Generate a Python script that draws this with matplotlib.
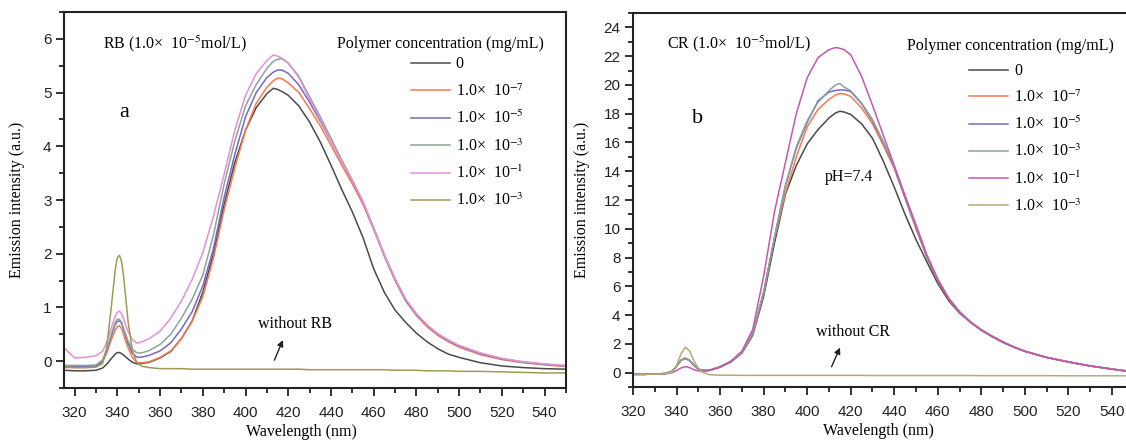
"""Emission spectra of RB and CR with polymer added (two panels, a and b)."""
import matplotlib
matplotlib.use("Agg")
import matplotlib.pyplot as plt
from matplotlib.ticker import MultipleLocator

plt.rcParams["font.family"] = ["Liberation Serif", "DejaVu Serif"]
plt.rcParams["mathtext.fontset"] = "stix"

# ---------------------------------------------------------------------------
# Data (wavelength in nm, intensity in a.u.)
# ---------------------------------------------------------------------------
LABELS = ["0", "1.0×  10$^{-7}$", "1.0×  10$^{-5}$", "1.0×  10$^{-3}$",
          "1.0×  10$^{-1}$", "1.0×  10$^{-3}$"]

# panel a: RB
wl_a = [315, 320, 325, 330, 333, 335, 337, 339, 340, 341, 342, 343, 345, 347,
        349, 350, 352, 355, 360, 365, 370, 375, 380, 385, 390, 395, 400, 405,
        410, 413, 415, 417, 420, 425, 430, 435, 440, 445, 450, 455, 460, 465,
        470, 475, 480, 485, 490, 495, 500, 510, 520, 530, 540, 550]
rb_0 = [-0.17, -0.18, -0.18, -0.17, -0.13, -0.06, 0.04, 0.13, 0.16, 0.16, 0.14,
        0.11, 0.04, -0.02, -0.05, -0.05, -0.04, -0.02, 0.06, 0.18, 0.42, 0.75,
        1.28, 2.0, 2.92, 3.7, 4.3, 4.72, 4.98, 5.08, 5.06, 5.02, 4.95, 4.75,
        4.45, 4.08, 3.65, 3.2, 2.78, 2.3, 1.72, 1.28, 0.95, 0.72, 0.52, 0.36,
        0.23, 0.13, 0.07, -0.03, -0.09, -0.12, -0.14, -0.15]
rb_e7 = [-0.12, -0.12, -0.12, -0.11, -0.02, 0.15, 0.38, 0.58, 0.64, 0.66, 0.6,
         0.48, 0.25, 0.07, -0.02, -0.03, -0.03, -0.01, 0.07, 0.19, 0.42, 0.74,
         1.2, 1.92, 2.82, 3.6, 4.3, 4.8, 5.1, 5.22, 5.27, 5.26, 5.18, 5.0, 4.7,
         4.38, 4.02, 3.65, 3.3, 2.92, 2.45, 1.95, 1.5, 1.12, 0.85, 0.64, 0.48,
         0.36, 0.26, 0.12, 0.03, -0.03, -0.07, -0.1]
rb_e5 = [-0.1, -0.1, -0.1, -0.09, 0.0, 0.18, 0.45, 0.68, 0.74, 0.75, 0.7, 0.58,
         0.33, 0.15, 0.08, 0.07, 0.08, 0.11, 0.19, 0.34, 0.6, 0.92, 1.4, 2.1,
         3.05, 3.85, 4.55, 5.0, 5.28, 5.38, 5.42, 5.42, 5.36, 5.14, 4.82, 4.47,
         4.1, 3.72, 3.35, 2.95, 2.47, 1.97, 1.52, 1.13, 0.87, 0.66, 0.5, 0.38,
         0.28, 0.14, 0.04, -0.02, -0.06, -0.09]
rb_e3 = [-0.08, -0.08, -0.08, -0.07, 0.02, 0.2, 0.48, 0.72, 0.78, 0.78, 0.72,
         0.6, 0.38, 0.22, 0.16, 0.15, 0.16, 0.2, 0.31, 0.5, 0.8, 1.15, 1.6, 2.35,
         3.3, 4.1, 4.75, 5.15, 5.45, 5.58, 5.62, 5.63, 5.55, 5.3, 4.92, 4.55,
         4.15, 3.75, 3.37, 2.97, 2.48, 1.98, 1.53, 1.15, 0.88, 0.67, 0.51, 0.39,
         0.29, 0.15, 0.05, -0.02, -0.06, -0.09]
rb_e1 = [0.25, 0.06, 0.07, 0.1, 0.18, 0.35, 0.6, 0.84, 0.91, 0.93, 0.88, 0.77,
         0.55, 0.4, 0.34, 0.34, 0.37, 0.42, 0.56, 0.8, 1.12, 1.52, 2.02, 2.7,
         3.48, 4.3, 4.95, 5.35, 5.6, 5.7, 5.68, 5.64, 5.55, 5.28, 4.88, 4.5, 4.1,
         3.72, 3.35, 2.96, 2.47, 1.97, 1.53, 1.15, 0.88, 0.67, 0.51, 0.39, 0.29,
         0.15, 0.05, -0.01, -0.05, -0.08]
rb_none = [-0.1, -0.12, -0.12, -0.11, -0.05, 0.25, 0.95, 1.7, 1.93, 1.97, 1.85,
           1.55, 0.75, 0.2, -0.02, -0.06, -0.1, -0.12, -0.14, -0.14, -0.14,
           -0.15, -0.15, -0.15, -0.15, -0.15, -0.15, -0.15, -0.15, -0.15, -0.15,
           -0.15, -0.15, -0.15, -0.16, -0.16, -0.16, -0.16, -0.16, -0.16, -0.16,
           -0.16, -0.17, -0.17, -0.17, -0.18, -0.18, -0.18, -0.19, -0.19, -0.2,
           -0.21, -0.22, -0.22]

# panel b: CR
wl_b = [320, 325, 330, 335, 338, 340, 342, 344, 346, 348, 350, 352, 355, 360,
        365, 370, 375, 380, 385, 390, 395, 400, 405, 410, 413, 415, 417, 420,
        425, 430, 435, 440, 445, 450, 455, 460, 465, 470, 475, 480, 485, 490,
        495, 500, 510, 520, 530, 540, 547]
cr_0 = [-0.12, -0.12, -0.1, -0.06, 0.1, 0.45, 0.85, 1.0, 0.85, 0.5, 0.25, 0.15,
        0.15, 0.38, 0.75, 1.35, 2.6, 5.3, 9.0, 12.4, 14.4, 15.9, 16.9, 17.7,
        18.05, 18.17, 18.12, 17.95, 17.3, 16.3, 14.7, 12.9, 11.0, 9.25, 7.7,
        6.2, 5.0, 4.15, 3.5, 2.95, 2.5, 2.1, 1.77, 1.48, 1.05, 0.74, 0.46, 0.24,
        0.1]
cr_e7 = [-0.12, -0.12, -0.1, -0.06, 0.1, 0.45, 0.85, 0.98, 0.83, 0.5, 0.25,
         0.15, 0.16, 0.4, 0.78, 1.4, 2.7, 5.5, 9.3, 12.5, 15.0, 17.1, 18.3, 19.0,
         19.3, 19.4, 19.38, 19.2, 18.4, 17.3, 15.8, 14.2, 12.1, 10.0, 8.0, 6.4,
         5.1, 4.2, 3.5, 2.95, 2.5, 2.1, 1.77, 1.48, 1.05, 0.74, 0.46, 0.24, 0.1]
cr_e5 = [-0.12, -0.12, -0.1, -0.06, 0.1, 0.45, 0.86, 1.0, 0.85, 0.5, 0.25, 0.15,
         0.16, 0.4, 0.78, 1.4, 2.75, 5.6, 9.4, 13.0, 15.6, 17.4, 18.9, 19.5,
         19.62, 19.65, 19.65, 19.55, 18.7, 17.5, 16.0, 14.3, 12.2, 10.1, 8.05,
         6.45, 5.15, 4.22, 3.52, 2.97, 2.52, 2.12, 1.78, 1.49, 1.06, 0.75, 0.47,
         0.25, 0.11]
cr_e3 = [-0.12, -0.12, -0.1, -0.06, 0.1, 0.45, 0.86, 1.0, 0.85, 0.5, 0.25, 0.15,
         0.16, 0.4, 0.78, 1.4, 2.75, 5.6, 9.4, 13.0, 15.7, 17.5, 18.8, 19.6,
         20.0, 20.1, 19.85, 19.6, 18.75, 17.6, 16.05, 14.35, 12.25, 10.15, 8.1,
         6.5, 5.2, 4.25, 3.55, 3.0, 2.55, 2.15, 1.8, 1.5, 1.07, 0.76, 0.48, 0.26,
         0.12]
cr_e1 = [-0.12, -0.12, -0.1, -0.08, 0.0, 0.15, 0.32, 0.42, 0.35, 0.2, 0.12, 0.1,
         0.15, 0.4, 0.8, 1.5, 3.0, 6.7, 11.2, 14.6, 18.0, 20.5, 21.9, 22.45,
         22.6, 22.55, 22.45, 22.1, 20.6, 18.6, 16.5, 14.4, 12.3, 10.3, 8.2, 6.5,
         5.15, 4.22, 3.52, 2.97, 2.52, 2.12, 1.78, 1.49, 1.06, 0.75, 0.47, 0.25,
         0.11]
cr_none = [-0.12, -0.12, -0.1, -0.08, 0.05, 0.5, 1.3, 1.77, 1.5, 0.8, 0.3, 0.02,
           -0.14, -0.18, -0.18, -0.19, -0.19, -0.19, -0.19, -0.19, -0.19, -0.19,
           -0.19, -0.19, -0.19, -0.19, -0.19, -0.19, -0.19, -0.2, -0.2, -0.2,
           -0.2, -0.2, -0.2, -0.2, -0.2, -0.2, -0.2, -0.21, -0.21, -0.21, -0.21,
           -0.21, -0.21, -0.22, -0.22, -0.22, -0.22]

COLORS_A = ["#4a4a4a", "#f7794f", "#7566c8", "#8aa597", "#e58fd6", "#a09a55"]
COLORS_B = ["#4a4a4a", "#f7794f", "#7566c8", "#8aa597", "#c458b0", "#b5a97a"]


def style_axes(ax, xlim, ylim, ymajor, yminor):
    ax.set_xlim(*xlim)
    ax.set_ylim(*ylim)
    ax.xaxis.set_major_locator(MultipleLocator(20))
    ax.xaxis.set_minor_locator(MultipleLocator(10))
    ax.yaxis.set_major_locator(MultipleLocator(ymajor))
    ax.yaxis.set_minor_locator(MultipleLocator(yminor))
    ax.tick_params(which="both", direction="out", top=False, right=False,
                   width=1.3, colors="#222222")
    ax.tick_params(which="major", length=6)
    ax.tick_params(which="minor", length=3.5)
    ax.tick_params(axis="x", which="major", pad=7)
    ax.tick_params(axis="y", which="major", pad=3)
    for lab in ax.get_xticklabels() + ax.get_yticklabels():
        lab.set_fontfamily("Liberation Sans")
        lab.set_fontsize(11)
    for sp in ax.spines.values():
        sp.set_linewidth(1.5)
        sp.set_color("#222222")
    ax.set_xlabel("Wavelength (nm)", fontsize=11.5)
    ax.set_ylabel("Emission intensity (a.u.)", fontsize=11.5)


fig = plt.figure(figsize=(11.26, 4.45), dpi=100)
ax_a = fig.add_axes([0.0568, 0.1281, 0.4458, 0.8449])
ax_b = fig.add_axes([0.5622, 0.1303, 0.4378, 0.8404])

# ---- panel a ---------------------------------------------------------------
for ys, col, lab in zip([rb_0, rb_e7, rb_e5, rb_e3, rb_e1, rb_none], COLORS_A, LABELS):
    ax_a.plot(wl_a, ys, color=col, lw=1.1, label=lab)
style_axes(ax_a, (315, 550), (-0.5, 6.5), 1, 0.5)
ax_a.xaxis.set_label_coords(0.474, -0.095)
ax_a.yaxis.set_label_coords(-0.078, 0.5)

ax_a.text(333.3, 5.91, "RB (1.0×  10$^{-5}$mol/L)", fontsize=11.5, va="center")
ax_a.text(443, 5.91, "Polymer concentration (mg/mL)", fontsize=11.5, va="center")
ax_a.text(343, 4.63, "a", fontsize=16, ha="center", va="center")
ax_a.text(423, 0.70, "without RB", fontsize=11.5, ha="center", va="center")
ax_a.annotate("", xy=(418, 0.44), xytext=(413, -0.03),
              arrowprops=dict(arrowstyle="-|>", color="#222222", lw=1.0,
                              mutation_scale=9))
ax_a.legend(loc="upper left", bbox_to_anchor=(0.691, 0.882), frameon=False,
            fontsize=11.5, handlelength=2.45, handletextpad=0.35,
            labelspacing=0.66, borderpad=0, borderaxespad=0)

# ---- panel b ---------------------------------------------------------------
for ys, col, lab in zip([cr_0, cr_e7, cr_e5, cr_e3, cr_e1, cr_none], COLORS_B, LABELS):
    ax_b.plot(wl_b, ys, color=col, lw=1.1, label=lab)
style_axes(ax_b, (320, 546.5), (-1, 25), 2, 1)
ax_b.spines["right"].set_visible(False)
ax_b.xaxis.set_label_coords(0.497, -0.095)
ax_b.yaxis.set_label_coords(-0.087, 0.5)

ax_b.text(335.7, 22.84, "CR (1.0×  10$^{-5}$mol/L)", fontsize=11.5, va="center")
ax_b.text(446, 22.7, "Polymer concentration (mg/mL)", fontsize=11.5, va="center")
ax_b.text(349.8, 17.7, "b", fontsize=16, ha="center", va="center")
ax_b.text(419, 13.6, "pH=7.4", fontsize=11.5, ha="center", va="center")
ax_b.text(421, 2.84, "without CR", fontsize=11.5, ha="center", va="center")
ax_b.annotate("", xy=(415.6, 1.92), xytext=(410.7, 0.23),
              arrowprops=dict(arrowstyle="-|>", color="#222222", lw=1.0,
                              mutation_scale=9))
ax_b.legend(loc="upper left", bbox_to_anchor=(0.682, 0.866), frameon=False,
            fontsize=11.5, handlelength=2.45, handletextpad=0.35,
            labelspacing=0.64, borderpad=0, borderaxespad=0)

fig.savefig("out.png", dpi=100)
